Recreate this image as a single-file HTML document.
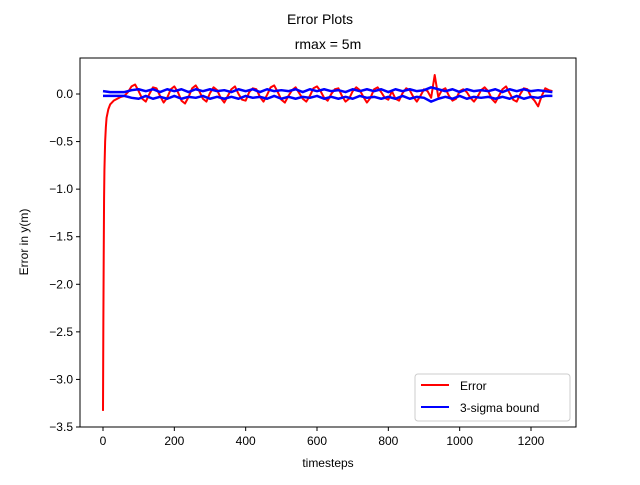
<!DOCTYPE html>
<html><head><meta charset="utf-8"><style>
body{margin:0;background:#fff;font-family:"Liberation Sans",sans-serif}
svg text{font-family:"Liberation Sans","DejaVu Sans",sans-serif;fill:#000}
</style></head><body>
<svg id="c" width="640" height="480" xmlns="http://www.w3.org/2000/svg">
<rect width="640" height="480" fill="#fff"/>
<text x="320" y="24" font-size="14" text-anchor="middle">Error Plots</text>
<text x="328" y="49" font-size="14" text-anchor="middle">rmax = 5m</text>
<g id="plot"></g>
<rect x="80" y="58" width="496" height="369" fill="none" stroke="#000" stroke-width="1"/>
<text x="328" y="467" font-size="12" text-anchor="middle">timesteps</text>
<text transform="translate(28,242) rotate(-90)" font-size="12" text-anchor="middle">Error in y(m)</text>
<g>
<rect x="415" y="374" width="155" height="47" rx="3" fill="#fff" fill-opacity="0.8" stroke="#ccc"/>
<line x1="421" y1="385" x2="449" y2="385" stroke="red" stroke-width="2"/>
<text x="460" y="390" font-size="12">Error</text>
<line x1="421" y1="407" x2="449" y2="407" stroke="blue" stroke-width="2"/>
<text x="460" y="412" font-size="12">3-sigma bound</text>
</g>
</svg>
<script>
const xTicks=[0,200,400,600,800,1000,1200];
const yTicks=[0.0,-0.5,-1.0,-1.5,-2.0,-2.5,-3.0,-3.5];
const earlyT=[0,1,2,3,4,6,8,10,15,20,30,40,50,60];
const earlyErr=[-3.33,-2.4,-1.7,-1.1,-0.8,-0.5,-0.35,-0.25,-0.16,-0.11,-0.07,-0.05,-0.03,-0.02];
const err=[0.02,0.08,0.1,0.03,-0.05,-0.08,0.0,0.07,0.06,-0.02,-0.09,-0.04,0.05,0.08,0.02,-0.07,-0.1,-0.03,0.06,0.09,0.03,-0.05,-0.08,0.01,0.07,0.04,-0.04,-0.09,-0.02,0.05,0.08,0.0,-0.06,-0.07,0.02,0.06,0.05,-0.03,-0.08,-0.01,0.07,0.09,0.02,-0.06,-0.09,-0.02,0.04,0.07,0.01,-0.05,-0.08,-0.02,0.06,0.08,0.03,-0.04,-0.07,0.0,0.05,0.06,-0.02,-0.08,-0.05,0.03,0.07,0.04,-0.03,-0.09,-0.04,0.05,0.07,0.02,-0.04,-0.06,0.03,-0.05,-0.07,0.01,0.06,0.04,-0.03,-0.08,-0.02,0.05,0.03,-0.04,0.2,-0.03,0.04,0.06,-0.02,-0.07,-0.05,0.03,0.05,0.02,-0.04,-0.08,-0.03,0.04,0.07,0.03,-0.05,-0.09,-0.02,0.05,0.08,0.01,-0.06,-0.08,0.0,0.06,0.05,-0.03,-0.07,-0.13,-0.02,0.06,0.04,0.03];
const sigUp=[0.03,0.02,0.02,0.02,0.04,0.05,0.03,0.05,0.02,0.05,0.03,0.05,0.02,0.05,0.03,0.05,0.03,0.04,0.02,0.05,0.03,0.05,0.02,0.05,0.03,0.04,0.03,0.05,0.02,0.05,0.03,0.05,0.03,0.04,0.02,0.05,0.03,0.05,0.03,0.05,0.02,0.05,0.03,0.05,0.03,0.04,0.07,0.05,0.03,0.05,0.02,0.05,0.03,0.04,0.03,0.05,0.02,0.05,0.03,0.05,0.03,0.04,0.03,0.02];
const sigLo=[-0.02,-0.02,-0.02,-0.02,-0.04,-0.05,-0.02,-0.05,-0.03,-0.05,-0.02,-0.05,-0.03,-0.04,-0.02,-0.05,-0.03,-0.05,-0.03,-0.05,-0.02,-0.04,-0.03,-0.05,-0.02,-0.05,-0.03,-0.05,-0.03,-0.04,-0.02,-0.05,-0.03,-0.05,-0.03,-0.05,-0.02,-0.04,-0.03,-0.05,-0.03,-0.05,-0.02,-0.05,-0.03,-0.04,-0.08,-0.05,-0.03,-0.05,-0.02,-0.05,-0.03,-0.04,-0.03,-0.05,-0.03,-0.05,-0.02,-0.05,-0.03,-0.04,-0.02,-0.02];
const X=t=>103+t*(531-103)/1200;
const Y=v=>94+(-v)*(427-94)/3.5;
const NS="http://www.w3.org/2000/svg";
const g=document.getElementById('plot');
function mk(tag,attrs){const e=document.createElementNS(NS,tag);for(const k in attrs)e.setAttribute(k,attrs[k]);g.appendChild(e);return e;}
xTicks.forEach(t=>{
 const l=mk('line',{x1:X(t),x2:X(t),y1:427,y2:431,stroke:'#000'});
 
 
 const s=mk('text',{x:X(t),y:445,'font-size':12,'text-anchor':'middle'});s.textContent=t;
 
 
});
yTicks.forEach(v=>{
 const l=mk('line',{x1:76,x2:80,y1:Y(v),y2:Y(v),stroke:'#000'});
 
 
 const s=mk('text',{x:73,y:Y(v)+4,'font-size':12,'text-anchor':'end'});s.textContent=(v<0?'\u2212':'')+Math.abs(v).toFixed(1);
 
 
});
let pts=earlyT.map((t,i)=>X(t)+','+Y(earlyErr[i]));
err.forEach((v,i)=>pts.push(X(70+10*i)+','+Y(v)));
const red=mk('polyline',{points:pts.join(' '),fill:'none',stroke:'red','stroke-width':2,'stroke-linejoin':'round'});


[sigUp,sigLo].forEach((arr,k)=>{
 const p=arr.map((v,i)=>X(i*20)+','+Y(v)).join(' ');
 const b=mk('polyline',{points:p,fill:'none',stroke:'blue','stroke-width':2.5,'stroke-linejoin':'round'});
 
 
});
</script>
</body></html>
